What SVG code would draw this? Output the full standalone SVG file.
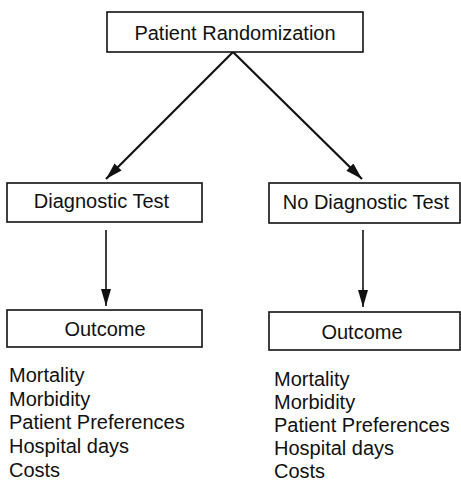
<svg xmlns="http://www.w3.org/2000/svg" width="461" height="483" viewBox="0 0 461 483">
<style>
.box{fill:#fff;stroke:#111;stroke-width:1.6}
.t{font-family:"Liberation Sans",Arial,sans-serif;font-size:20px;fill:#111}
.c{text-anchor:middle}
.ln{stroke:#111;fill:none}
</style>
<defs>
<marker id="ah" viewBox="0 0 17 10" refX="17" refY="5" markerWidth="17" markerHeight="10" markerUnits="userSpaceOnUse" orient="auto">
<path d="M0,0 L17,5 L0,10 Z" fill="#111"/>
</marker>
</defs>
<rect width="461" height="483" fill="#fff"/>
<g id="connectors">
<line class="ln" x1="233" y1="52" x2="106" y2="179" stroke-width="2.2" marker-end="url(#ah)"/>
<line class="ln" x1="233" y1="52" x2="362" y2="179" stroke-width="2.2" marker-end="url(#ah)"/>
<line class="ln" x1="106" y1="230" x2="106" y2="306" stroke-width="1.6" marker-end="url(#ah)"/>
<line class="ln" x1="363" y1="230" x2="363" y2="307" stroke-width="1.6" marker-end="url(#ah)"/>
</g>
<g id="randomization">
<rect class="box" x="107" y="12" width="256" height="40"/>
<text class="t c" x="235" y="40">Patient Randomization</text>
</g>
<g id="diagnostic">
<rect class="box" x="7" y="183" width="195" height="39"/>
<text class="t c" x="101.5" y="208">Diagnostic Test</text>
</g>
<g id="no-diagnostic">
<rect class="box" x="269" y="183" width="191" height="40"/>
<text class="t c" x="366" y="209">No Diagnostic Test</text>
</g>
<g id="outcome-left">
<rect class="box" x="7" y="310" width="195" height="37"/>
<text class="t c" x="105" y="336">Outcome</text>
</g>
<g id="outcome-right">
<rect class="box" x="269" y="312" width="191" height="38"/>
<text class="t c" x="362" y="339">Outcome</text>
</g>
<g id="list-left">
<text class="t" x="9" y="382">Mortality</text>
<text class="t" x="9" y="406">Morbidity</text>
<text class="t" x="9" y="429">Patient Preferences</text>
<text class="t" x="9" y="453">Hospital days</text>
<text class="t" x="9" y="477">Costs</text>
</g>
<g id="list-right">
<text class="t" x="274" y="386">Mortality</text>
<text class="t" x="274" y="409">Morbidity</text>
<text class="t" x="274" y="432">Patient Preferences</text>
<text class="t" x="274" y="455">Hospital days</text>
<text class="t" x="274" y="478">Costs</text>
</g>
</svg>
